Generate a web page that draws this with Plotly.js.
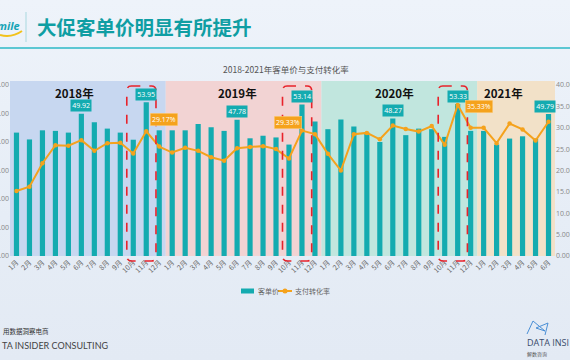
<!DOCTYPE html>
<html>
<head>
<meta charset="utf-8">
<script src="https://cdn.plot.ly/plotly-3.0.1.min.js"></script>
<style>
html,body{margin:0;padding:0;width:570px;height:360px;overflow:hidden;background:linear-gradient(180deg,#eef3fa 0%,#e6edf6 60%,#e3eaf4 100%);}
#chart{width:570px;height:360px;}
</style>
</head>
<body>
<div id="chart"></div>
<script>
// ---- data ----
const months = ['1月','2月','3月','4月','5月','6月','7月','8月','9月','10月','11月','12月',
                '1月','2月','3月','4月','5月','6月','7月','8月','9月','10月','11月','12月',
                '1月','2月','3月','4月','5月','6月','7月','8月','9月','10月','11月','12月',
                '1月','2月','3月','4月','5月','6月'];
const years = ['2018年','2019年','2020年','2021年'];
const yearCounts = [12,12,12,6];
const price = [43.3,40.9,44.1,43.9,43.3,49.92,46.9,44.7,43.3,40.8,53.95,44.1,
               44.1,44.1,46.3,45.2,43.9,47.78,41.3,42.2,41.6,39.1,53.14,47.2,
               44.5,47.9,45.4,43.3,40.0,48.27,42.4,44.7,44.5,41.8,53.33,43.9,
               43.9,39.1,41.2,42.0,41.2,49.79];
const conv = [15.2,16.2,21.7,25.9,25.8,27.1,24.6,26.4,26.5,24.0,29.17,25.6,
              24.2,25.3,24.6,23.1,22.3,25.2,25.5,25.7,25.0,22.8,29.33,28.5,
              23.9,20.0,28.5,28.8,27.3,30.5,29.7,29.1,30.4,26.0,35.33,30.0,
              30.0,26.4,31.0,29.6,27.0,31.4];
const priceLabelIdx = [5,10,17,22,29,34,41];
const convLabelIdx = [10,22,34];
const seriesNames = ['客单价','支付转化率'];

// ---- layout geometry ----
const W = 570, H = 360, L = 10, R = 15, T = 83, B = 104;
const PW = W - L - R, PH = H - T - B;
const px = x => (x - L) / PW;
const py = y => (H - B - y) / PH;
const idx = months.map((m, i) => i);

const TEAL = '#14abb0', ORANGE = '#f5a21c';
const CJK = 'Noto Sans CJK SC, Noto Sans, sans-serif';

const traces = [
  {type:'bar', x: idx, y: price, name: seriesNames[0], marker:{color:TEAL}, width:0.4, yaxis:'y', showlegend:false},
  {type:'scatter', mode:'lines+markers', x: idx, y: conv, name: seriesNames[1], yaxis:'y2', showlegend:false,
   line:{color:ORANGE, width:2}, marker:{color:ORANGE, size:4.5}}
];

const bgColors = ['#c7d7f0','#f2d3d3','#c1e6de','#f2e1c8'];
const yearPos = [4.5, 17, 29.1, 37.5];
const shapes = [];
const annotations = [];
const ann = o => annotations.push(Object.assign({showarrow:false, xanchor:'center', yanchor:'middle'}, o));
let start = 0;
yearCounts.forEach((c, k) => {
  shapes.push({type:'rect', layer:'below', xref:'x', yref:'paper', x0:start-0.5, x1:start+c-0.5, y0:0, y1:1.012,
               fillcolor:bgColors[k], line:{width:0}});
  ann({xref:'x', yref:'paper', x:yearPos[k], y:py(93), text:'<b>'+years[k]+'</b>',
       font:{family:CJK, size:11.5, color:'#111'}});
  start += c;
});

// dashed highlight boxes around Double-11 periods
[9, 21, 33].forEach(i => {
  const x0 = i - 0.5, x1 = i + 1.75, y0 = py(261), y1 = py(86);
  const rx = 0.35, ry = 5 / PH;
  const p = `M ${x0+rx},${y1} L ${x1-rx},${y1} Q ${x1},${y1} ${x1},${y1-ry} L ${x1},${y0+ry} Q ${x1},${y0} ${x1-rx},${y0} ` +
            `L ${x0+rx},${y0} Q ${x0},${y0} ${x0},${y0+ry} L ${x0},${y1-ry} Q ${x0},${y1} ${x0+rx},${y1} Z`;
  shapes.push({type:'path', layer:'above', xref:'x', yref:'paper', path:p, line:{color:'#e8232b', width:1.6, dash:'dash'}});
});

// header lines
shapes.push({type:'line', xref:'paper', yref:'paper', x0:px(0), x1:px(570), y0:py(48), y1:py(48), line:{color:'#2db8c6', width:1.5}});
shapes.push({type:'line', xref:'paper', yref:'paper', x0:px(26), x1:px(26), y0:py(12), y1:py(42), line:{color:'#a9d8df', width:1}});
shapes.push({type:'path', xref:'paper', yref:'paper',
  path:`M ${px(0)},${py(35)} Q ${px(12)},${py(38)} ${px(22)},${py(31)}`, line:{color:'#f2c21b', width:2}});
// right logo icon
shapes.push({type:'path', xref:'paper', yref:'paper',
  path:`M ${px(527)},${py(334)} L ${px(533)},${py(321)} L ${px(545)},${py(331)} L ${px(536)},${py(328)} L ${px(548)},${py(323)} L ${px(545)},${py(335)}`,
  line:{color:'#4a8fd6', width:1}});

// manual legend
shapes.push({type:'rect', xref:'paper', yref:'paper', x0:px(241), x1:px(254), y0:py(293.5), y1:py(288.5),
  fillcolor:TEAL, line:{width:0}});
shapes.push({type:'line', xref:'paper', yref:'paper', x0:px(278), x1:px(292), y0:py(291), y1:py(291),
  line:{color:ORANGE, width:2}});
shapes.push({type:'circle', xref:'paper', yref:'paper', x0:px(282.5), x1:px(287.5), y0:py(293.5), y1:py(288.5),
  fillcolor:ORANGE, line:{width:0}});
ann({xref:'paper', yref:'paper', x:px(256), y:py(291), xanchor:'left', text:seriesNames[0],
     font:{family:CJK, size:7, color:'#666'}});
ann({xref:'paper', yref:'paper', x:px(293.5), y:py(291), xanchor:'left', text:seriesNames[1],
     font:{family:CJK, size:7, color:'#666'}});

// bar value labels
priceLabelIdx.forEach((i, k) => {
  ann({xref:'x', yref:'y', x:i, y:price[i], text:price[i].toFixed(2),
    xshift: (k === priceLabelIdx.length - 1) ? -4 : 0,
    yanchor:'bottom', yshift:1.5, bgcolor:TEAL, borderpad:1.2, font:{family:'Open Sans, sans-serif', size:7, color:'#fff'}});
});
// conversion labels
const convShift = [[18,12],[-14,8],[21,-2]];
convLabelIdx.forEach((i, k) => {
  ann({xref:'x', yref:'y2', x:i, y:conv[i], text:conv[i].toFixed(2)+'%',
    xshift:convShift[k][0], yshift:convShift[k][1], bgcolor:ORANGE, bordercolor:'#fbd08a', borderwidth:0.5, borderpad:1.5,
    font:{family:'Open Sans, sans-serif', size:7, color:'#fff'}});
});

// header/footer texts
ann({xref:'paper', yref:'paper', x:px(22), y:py(25), xanchor:'right', text:'<b><i>mile</i></b>',
  font:{family:'Open Sans, sans-serif', size:11, color:'#16a3b5'}});
ann({xref:'paper', yref:'paper', x:px(35), y:py(27), xanchor:'left', text:'<b>大促客单价明显有所提升</b>',
  font:{family:CJK, size:19.5, color:'#0f9ea3'}});
ann({xref:'paper', yref:'paper', x:px(286), y:py(69), text:'2018-2021年客单价与支付转化率',
  font:{family:CJK, size:8.5, color:'#555'}});
ann({xref:'paper', yref:'paper', x:px(1), y:py(331), xanchor:'left', text:'用数据洞察电商',
  font:{family:CJK, size:6.5, color:'#333'}});
ann({xref:'paper', yref:'paper', x:px(0), y:py(345), xanchor:'left', text:'TA INSIDER CONSULTING',
  font:{family:'Lato, Open Sans, sans-serif', size:9, color:'#444'}});
ann({xref:'paper', yref:'paper', x:px(525), y:py(342), xanchor:'left', text:'DATA INSI',
  font:{family:'Open Sans, sans-serif', size:9, color:'#3a4a6a'}});
ann({xref:'paper', yref:'paper', x:px(525), y:py(354), xanchor:'left', text:'解数咨询',
  font:{family:CJK, size:5, color:'#555'}});

const layout = {
  width: W, height: H,
  margin:{l:L, r:R, t:T, b:B, pad:0},
  paper_bgcolor:'rgba(0,0,0,0)', plot_bgcolor:'rgba(0,0,0,0)',
  showlegend:false,
  xaxis:{range:[-0.5, 41.5], tickmode:'array', tickvals:idx, ticktext:months, tickangle:-45,
         tickfont:{family:CJK, size:7, color:'#666'}, showgrid:false, zeroline:false, showline:false, ticks:'', fixedrange:true},
  yaxis:{range:[0, 60*PH/171], tickmode:'linear', tick0:0, dtick:10, tickformat:'.2f', showgrid:false, zeroline:false,
         tickfont:{family:'Open Sans, sans-serif', size:7, color:'#888'}, ticks:'', showline:false},
  yaxis2:{range:[0, 40*PH/171], tickmode:'linear', tick0:0, dtick:5, tickformat:'.2f', overlaying:'y', side:'right',
          showgrid:false, zeroline:false, tickfont:{family:'Open Sans, sans-serif', size:7, color:'#888'}, ticks:'', showline:false},
  shapes: shapes,
  annotations: annotations
};

Plotly.newPlot('chart', traces, layout, {displayModeBar:false, staticPlot:true});
</script>
</body>
</html>
